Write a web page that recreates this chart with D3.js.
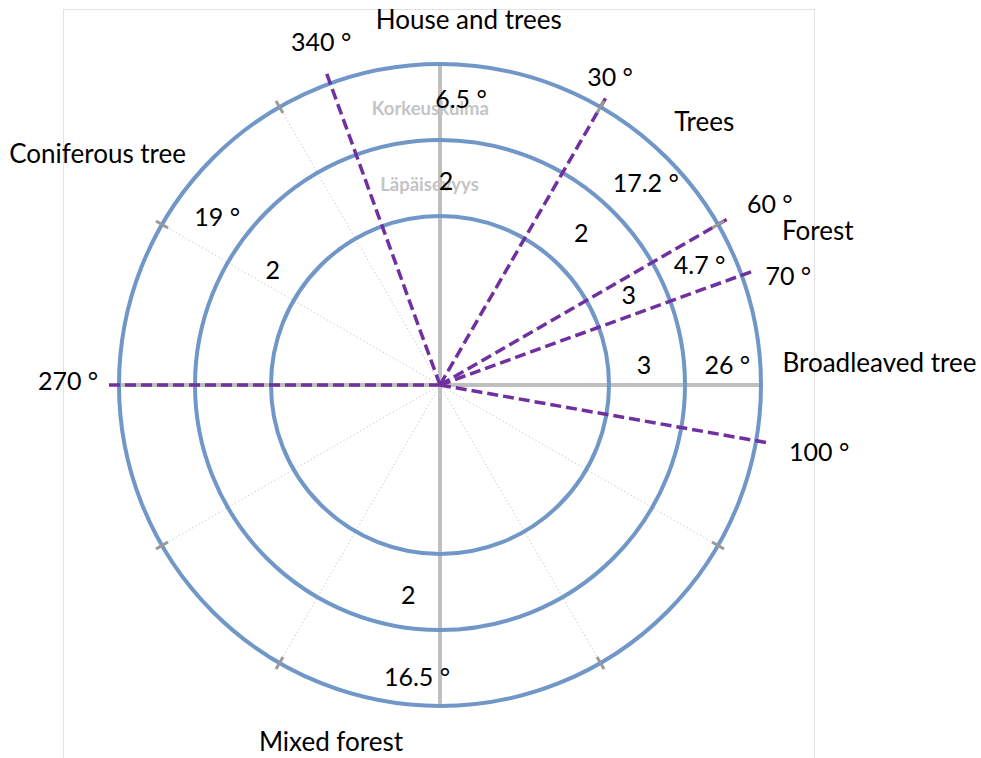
<!DOCTYPE html>
<html>
<head>
<meta charset="utf-8">
<script src="https://cdn.jsdelivr.net/npm/d3@7"></script>
<style>
  html, body { margin: 0; padding: 0; background: #fff; }
  svg { display: block; }
  text { font-family: Lato, "Open Sans", sans-serif; }
</style>
</head>
<body>
<svg id="chart" width="981" height="758"></svg>
<script>
// Sector boundaries, degrees clockwise from north
const spokeAngles = [340, 30, 60, 70, 100, 270];
const spokeLabels = ["340 °", "30 °", "60 °", "70 °", "100 °", "270 °"];

// Sectors lying between consecutive boundaries
const categories = ["House and trees", "Trees", "Forest", "Broadleaved tree", "Mixed forest", "Coniferous tree"];
const elevationDeg = [6.5, 17.2, 4.7, 26, 16.5, 19];   // Korkeuskulma
const permeability = [2, 2, 3, 3, 2, 2];               // Läpäisevyys

// Grid
const ringLevels = [1, 2, 3];
const axisAngles = [0, 90, 180, 270];
const gridAngles = [30, 60, 120, 150, 210, 240, 300, 330];
const bandTitles = ["Korkeuskulma", "Läpäisevyys"];

// Label placement, [angle in degrees, distance from centre in px]
const spokeLabelPolar    = [[340.9, 363], [28.9, 352], [61.3, 376], [72.6, 365], [100, 385], [270.6, 372]];
const categoryLabelPolar = [[4.5, 366], [45.1, 373], [67.8, 408], [87.1, 440], [197, 373], [304, 413]];
const elevationLabelPolar = [[4.2, 287], [45.6, 288], [65.2, 286], [86, 288], [184.5, 293], [307, 279]];
const permeabilityLabelPolar = [[1.7, 204], [43, 207], [64.5, 209], [84.4, 205], [188.6, 213], [304.5, 203]];
const bandTitlePolar = [[-2, 277], [-3, 201]];

const cx = 440, cy = 385;

const svg = d3.select("#chart");

// Frame
svg.append("rect")
  .attr("x", 63.5).attr("y", 9.5)
  .attr("width", 751).attr("height", 800)
  .attr("fill", "none").attr("stroke", "#e2e2e2").attr("stroke-width", 1);

const g = svg.append("g").attr("transform", `translate(${cx},${cy})`);

const angle = d3.scaleLinear().domain([0, 360]).range([0, 2 * Math.PI]);
const radius = d3.scaleLinear().domain([0, 3]).range([93, 321]);
const pt = (deg, r) => d3.pointRadial(angle(deg), r);

// Dotted radial grid
g.selectAll("line.grid").data(gridAngles).join("line")
  .attr("class", "grid")
  .attr("x1", 0).attr("y1", 0)
  .attr("x2", d => pt(d, radius(3))[0])
  .attr("y2", d => pt(d, radius(3))[1])
  .attr("stroke", "#c4c4c4").attr("stroke-width", 1)
  .attr("stroke-dasharray", "1.2,2.6");

// Main axes
g.selectAll("line.axis").data(axisAngles).join("line")
  .attr("class", "axis")
  .attr("x1", 0).attr("y1", 0)
  .attr("x2", d => pt(d, radius(3))[0])
  .attr("y2", d => pt(d, radius(3))[1])
  .attr("stroke", "#bfbfbf").attr("stroke-width", 4);

// Rings
g.selectAll("circle.ring").data(ringLevels).join("circle")
  .attr("class", "ring")
  .attr("r", d => radius(d))
  .attr("fill", "none")
  .attr("stroke", "#7097c7").attr("stroke-width", 4);

// Sector boundaries
g.selectAll("line.spoke").data(spokeAngles).join("line")
  .attr("class", "spoke")
  .attr("x1", 0).attr("y1", 0)
  .attr("x2", d => pt(d, radius(3.17))[0])
  .attr("y2", d => pt(d, radius(3.17))[1])
  .attr("stroke", "#7030a0").attr("stroke-width", 3.5)
  .attr("stroke-dasharray", "11,5");

// Tick marks on the outer ring
g.selectAll("line.tick").data(gridAngles).join("line")
  .attr("class", "tick")
  .attr("x1", d => pt(d, radius(3) - 7)[0])
  .attr("y1", d => pt(d, radius(3) - 7)[1])
  .attr("x2", d => pt(d, radius(3) + 7)[0])
  .attr("y2", d => pt(d, radius(3) + 7)[1])
  .attr("stroke", "#9a9a9a").attr("stroke-width", 3);

// Band titles
g.selectAll("text.band").data(bandTitles).join("text")
  .attr("class", "band")
  .attr("x", (d, i) => pt(...bandTitlePolar[i])[0])
  .attr("y", (d, i) => pt(...bandTitlePolar[i])[1])
  .attr("dy", "0.35em")
  .attr("text-anchor", "middle")
  .attr("font-size", 18.5).attr("font-weight", "bold")
  .attr("fill", "#c4c4c4")
  .text(d => d);

function labels(cls, texts, polar, size) {
  g.selectAll("text." + cls).data(texts).join("text")
    .attr("class", cls)
    .attr("x", (d, i) => pt(...polar[i])[0])
    .attr("y", (d, i) => pt(...polar[i])[1])
    .attr("dy", "0.35em")
    .attr("text-anchor", "middle")
    .attr("font-size", size)
    .attr("fill", "#000")
    .text(d => d);
}

labels("spoke-label", spokeLabels, spokeLabelPolar, 25);
labels("category", categories, categoryLabelPolar, 26);
labels("elevation", elevationDeg.map(v => `${v} °`), elevationLabelPolar, 25);
labels("permeability", permeability.map(String), permeabilityLabelPolar, 25);
</script>
</body>
</html>
